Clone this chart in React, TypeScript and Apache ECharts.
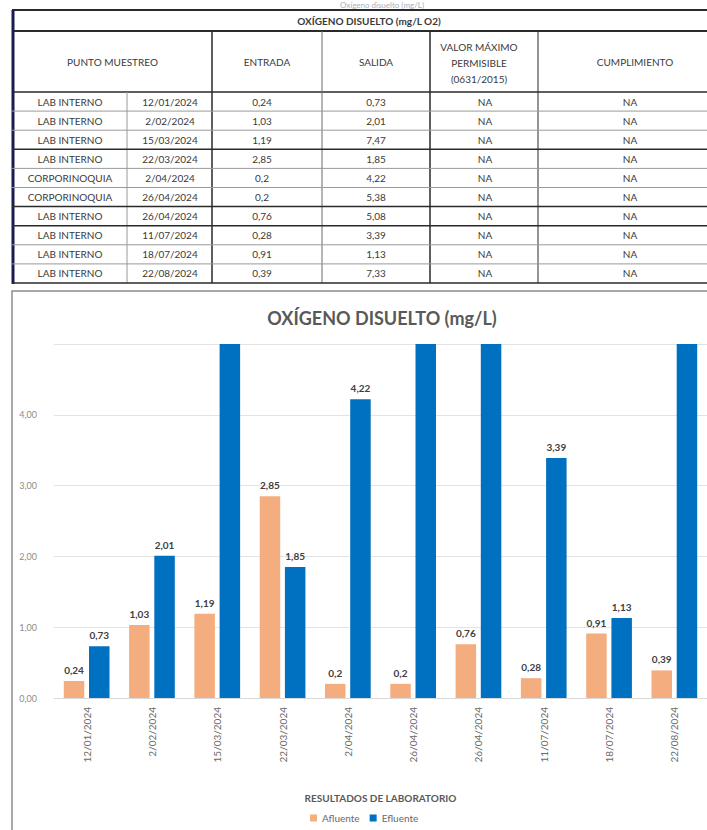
import React, { useEffect, useRef } from "react";
import * as echarts from "echarts";

// ---------- data ----------
const categories = [
  "12/01/2024", "2/02/2024", "15/03/2024", "22/03/2024", "2/04/2024",
  "26/04/2024", "26/04/2024", "11/07/2024", "18/07/2024", "22/08/2024",
];
const puntos = [
  "LAB INTERNO", "LAB INTERNO", "LAB INTERNO", "LAB INTERNO", "CORPORINOQUIA",
  "CORPORINOQUIA", "LAB INTERNO", "LAB INTERNO", "LAB INTERNO", "LAB INTERNO",
];
const afluente = [0.24, 1.03, 1.19, 2.85, 0.2, 0.2, 0.76, 0.28, 0.91, 0.39];
const efluente = [0.73, 2.01, 7.47, 1.85, 4.22, 5.38, 5.08, 3.39, 1.13, 7.33];
const valorMaximo = ["NA", "NA", "NA", "NA", "NA", "NA", "NA", "NA", "NA", "NA"];
const cumplimiento = ["NA", "NA", "NA", "NA", "NA", "NA", "NA", "NA", "NA", "NA"];
const tableTitle = "OXÍGENO DISUELTO (mg/L O2)";
const headers = ["PUNTO MUESTREO", "ENTRADA", "SALIDA", "VALOR MÁXIMO\nPERMISIBLE\n(0631/2015)", "CUMPLIMIENTO"];
const chartTitle = "OXÍGENO DISUELTO (mg/L)";
const topCutTitle = "Oxígeno disuelto (mg/L)";
const xAxisName = "RESULTADOS DE LABORATORIO";
const seriesNames = ["Afluente", "Efluente"];
const yMin = 0;
const yMax = 5;
const yInterval = 1;

const FONT = "Lato, 'Open Sans', sans-serif";
const fmt = (v: number) => String(v).replace(".", ",");

function buildTable() {
  const els: any[] = [];
  const colX = [13, 127, 212, 322, 430, 538, 732];
  const top = 10;
  const titleBottom = 31;
  const headBottom = 92;
  const rowH = 19.1;
  const bottom = headBottom + rowH * puntos.length;
  const dark = "#2a2a2a";
  const gray = "#9a9a9a";
  const txt = "#3a3a3a";
  const line = (x1: number, y1: number, x2: number, y2: number, stroke: string, w: number) =>
    els.push({ type: "line", shape: { x1, y1, x2, y2 }, style: { stroke, lineWidth: w }, silent: true });
  const text = (s: string, x: number, y: number, size: number, weight = "normal", lh?: number) =>
    els.push({
      type: "text", x, y, silent: true,
      style: {
        text: s, fill: txt, fontSize: size, fontFamily: FONT, fontWeight: weight,
        align: "center", verticalAlign: "middle", textAlign: "center", textVerticalAlign: "middle",
        lineHeight: lh,
      },
    });

  // borders
  line(12, top, 732, top, dark, 2);
  line(12, titleBottom, 732, titleBottom, dark, 2);
  line(12, headBottom, 732, headBottom, dark, 1.5);
  line(13, top, 13, bottom + 1, "#1c1c50", 3);
  line(colX[1], headBottom, colX[1], bottom, gray, 1);
  line(colX[2], titleBottom, colX[2], bottom, dark, 1.5);
  line(colX[3], titleBottom, colX[3], bottom, "#6a6a6a", 1);
  line(colX[4], titleBottom, colX[4], bottom, dark, 1.5);
  line(colX[5], titleBottom, colX[5], bottom, dark, 1);
  const darkAfter = [false, false, true, false, false, true, true, false, false, true];
  for (let i = 0; i < puntos.length; i++) {
    const y = headBottom + rowH * (i + 1);
    line(12, y, 732, y, darkAfter[i] ? dark : gray, darkAfter[i] ? 1.5 : 1);
  }

  text(tableTitle, 369, (top + titleBottom) / 2, 10, "bold");
  const hy = (titleBottom + headBottom) / 2;
  text(headers[0], (colX[0] + colX[2]) / 2, hy, 10);
  text(headers[1], 267, hy, 10);
  text(headers[2], 376, hy, 10);
  text(headers[3], 479, hy + 1, 10, "normal", 16);
  text(headers[4], 635, hy, 10);

  for (let i = 0; i < puntos.length; i++) {
    const y = headBottom + rowH * i + rowH / 2;
    text(puntos[i], 70, y, 10);
    text(categories[i], 170, y, 10);
    text(fmt(afluente[i]), 262, y, 10);
    text(fmt(efluente[i]), 376, y, 10);
    text(valorMaximo[i], 485, y, 10);
    text(cumplimiento[i], 630, y, 10);
  }
  return els;
}

export default function App() {
  const ref = useRef<HTMLDivElement>(null);
  useEffect(() => {
    if (!ref.current) return;
    const chart = echarts.init(ref.current, null, { renderer: "svg" });
    const graphic: any[] = [
      {
        type: "text", x: 382, y: 4.5, silent: true,
        style: {
          text: topCutTitle, fill: "#a3b2c6", fontSize: 8, fontFamily: FONT,
          align: "center", verticalAlign: "middle", textAlign: "center", textVerticalAlign: "middle",
        },
      },
      ...buildTable(),
      {
        type: "rect", silent: true, z: -1,
        shape: { x: 12, y: 291, width: 740, height: 580 },
        style: { fill: "transparent", stroke: "#8c8c8c", lineWidth: 1.5 },
      },
      {
        type: "text", x: 382, y: 318, silent: true,
        style: {
          text: chartTitle, fill: "#595959", fontSize: 18, fontWeight: "bold", fontFamily: FONT,
          align: "center", verticalAlign: "middle", textAlign: "center", textVerticalAlign: "middle",
        },
      },
    ];

    chart.setOption({
      animation: false,
      textStyle: { fontFamily: FONT },
      graphic,
      grid: { left: 54, right: -13, top: 344, bottom: 132, containLabel: false },
      legend: {
        data: seriesNames,
        left: 305,
        top: 808,
        itemWidth: 7,
        itemHeight: 7,
        itemGap: 10,
        textStyle: { fontSize: 10, color: "#6a6a6a", fontFamily: FONT },
        icon: "rect",
      },
      xAxis: {
        type: "category",
        data: categories,
        name: xAxisName,
        nameLocation: "middle",
        nameGap: 95,
        nameTextStyle: { fontSize: 10, fontWeight: "bold", color: "#595959", fontFamily: FONT },
        axisLine: { lineStyle: { color: "#d9d9d9" } },
        axisTick: { show: false },
        axisLabel: { rotate: 90, fontSize: 10, color: "#6a6a6a", margin: 9, interval: 0, fontFamily: FONT },
      },
      yAxis: {
        type: "value",
        min: yMin,
        max: yMax,
        interval: yInterval,
        axisLine: { show: false },
        axisTick: { show: false },
        splitLine: { lineStyle: { color: "#e3e3e3" } },
        axisLabel: {
          fontSize: 9, color: "#8c8c8c", margin: 17, showMaxLabel: false, fontFamily: FONT,
          formatter: (v: number) => v.toFixed(2).replace(".", ","),
        },
      },
      series: [
        {
          name: seriesNames[0],
          type: "bar",
          data: afluente.map((v) => (v > yMax ? { value: v, label: { show: false } } : v)),
          barWidth: 20.5,
          barGap: "23%",
          clip: true,
          itemStyle: { color: "#F4AD7E" },
          label: {
            show: true, position: "top", distance: 6, fontSize: 10, fontWeight: "bold",
            color: "#404040", fontFamily: FONT, formatter: (p: any) => fmt(p.value),
          },
        },
        {
          name: seriesNames[1],
          type: "bar",
          data: efluente.map((v) => (v > yMax ? { value: v, label: { show: false } } : v)),
          barWidth: 20.5,
          barGap: "23%",
          clip: true,
          itemStyle: { color: "#0070C0" },
          label: {
            show: true, position: "top", distance: 6, fontSize: 10, fontWeight: "bold",
            color: "#404040", fontFamily: FONT, formatter: (p: any) => fmt(p.value),
          },
        },
      ],
    });
    return () => chart.dispose();
  }, []);
  return (
    <div
      ref={ref}
      style={{ position: "absolute", left: 0, top: 0, width: 707, height: 830, background: "#fff" }}
    />
  );
}
